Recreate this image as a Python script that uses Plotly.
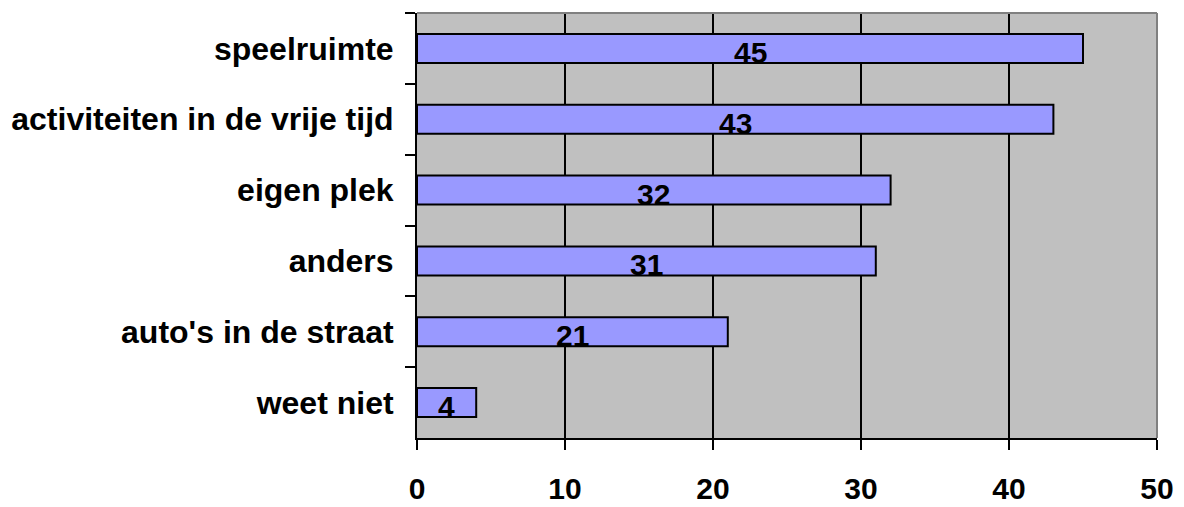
import plotly.graph_objects as go

categories = ["speelruimte", "activiteiten in de vrije tijd", "eigen plek",
              "anders", "auto's in de straat", "weet niet"]
values = [45, 43, 32, 31, 21, 4]
x_ticks = [0, 10, 20, 30, 40, 50]

FONT = "Liberation Sans, Arial, sans-serif"

fig = go.Figure()
fig.add_trace(go.Bar(
    y=categories, x=values, orientation="h",
    marker=dict(color="#9999FF", line=dict(color="black", width=2)),
    hoverinfo="skip",
))

for c, v in zip(categories, values):
    fig.add_annotation(x=v / 2, y=c, text=str(v), showarrow=False,
                       yshift=-4, font=dict(family=FONT, size=30, color="black", weight="bold"))

fig.update_layout(
    width=1184, height=507,
    margin=dict(l=417, r=27, t=13, b=69),
    paper_bgcolor="white", plot_bgcolor="#C0C0C0",
    bargap=0.59, showlegend=False,
    font=dict(family=FONT, size=30, color="black", weight="bold"),
)
fig.update_xaxes(
    range=[0, 50], tickvals=x_ticks, ticktext=[str(t) for t in x_ticks],
    showgrid=True, gridcolor="black", gridwidth=2, zeroline=False,
    showline=True, linecolor="black", linewidth=2,
    ticks="outside", ticklen=10, tickwidth=2, tickcolor="black",
    ticklabelstandoff=13, automargin=False,
    tickfont=dict(family=FONT, size=30, color="black", weight="bold"),
)
fig.update_yaxes(
    autorange="reversed", categoryorder="array", categoryarray=categories,
    showgrid=False, zeroline=False,
    showline=True, linecolor="black", linewidth=2,
    ticks="outside", ticklen=10, tickwidth=2, tickcolor="black",
    tickson="boundaries", ticklabelstandoff=15, automargin=False,
    tickfont=dict(family=FONT, size=32, color="black", weight="bold"),
)
# gray plot-area border on top and right
fig.add_shape(type="line", xref="paper", yref="paper", x0=0, x1=1, y0=1, y1=1,
              line=dict(color="#808080", width=2), layer="above")
fig.add_shape(type="line", xref="paper", yref="paper", x0=1, x1=1, y0=0, y1=1,
              line=dict(color="#808080", width=2), layer="above")

fig.write_html("out.html", config={"displayModeBar": False},
               post_script="document.body.style.margin='0';")
